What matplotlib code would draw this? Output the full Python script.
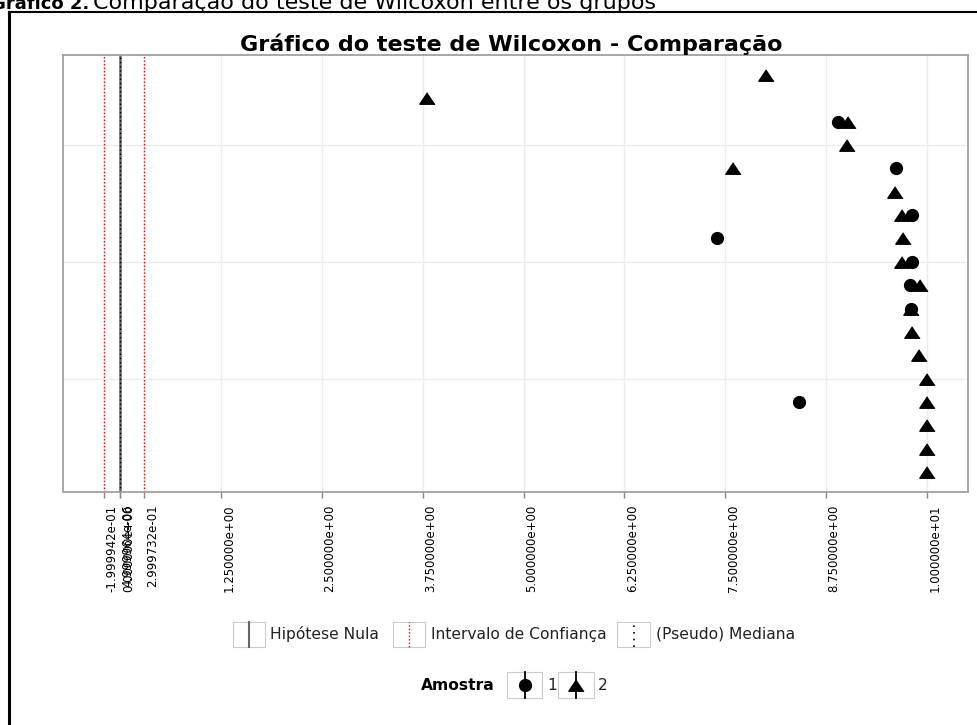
import numpy as np
import matplotlib
matplotlib.use("Agg")
import matplotlib.pyplot as plt
import matplotlib.transforms as mtransforms
from matplotlib.lines import Line2D
from matplotlib.patches import Rectangle

# ---------------- data ----------------
caption_bold = "Gráfico 2."
caption_rest = "Comparação do teste de Wilcoxon entre os grupos"
title = "Gráfico do teste de Wilcoxon - Comparação"

# rows listed top -> bottom
amostra1 = [np.nan, np.nan, 8.90, np.nan, 9.62, np.nan, 9.81, 7.40, 9.81,
            9.79, 9.80, np.nan, np.nan, np.nan, 8.42, np.nan, np.nan, np.nan]
amostra2 = [8.01, 3.80, 9.02, 9.01, 7.60, 9.60, 9.69, 9.70, 9.69,
            9.91, 9.80, 9.81, 9.90, 10.0, 10.0, 10.0, 10.0, 10.0]

hipotese_nula = 0.0
intervalo_conf = [-0.1999942, 0.2999732]
pseudo_mediana = 4.999964e-06
x_breaks = [1.25, 2.5, 3.75, 5.0, 6.25, 7.5, 8.75, 10.0]
y_breaks = [5, 10, 15]

legend_lines = ["Hipótese Nula", "Intervalo de Confiança", "(Pseudo) Mediana"]
legend_title = "Amostra"
legend_groups = ["1", "2"]

# ---------------- figure ----------------
W, H = 977, 725
fig = plt.figure(figsize=(W / 100, H / 100), dpi=100)
fig.patch.set_facecolor("white")


def fx(x):
    return x / W


def fy(y):
    return 1 - y / H


left, right, top, bottom = 63, 968, 55, 492
ax = fig.add_axes([fx(left), fy(bottom), (right - left) / W, (bottom - top) / H])

n = len(amostra2)
ypos = np.arange(n, 0, -1)

all_ticks = [intervalo_conf[0], hipotese_nula, pseudo_mediana, intervalo_conf[1]] + x_breaks
rng = max(all_ticks) - min(all_ticks)
ax.set_xlim(min(all_ticks) - 0.05 * rng, max(all_ticks) + 0.05 * rng)
ax.set_ylim(1 - 0.05 * (n - 1), n + 0.05 * (n - 1))

grid_c = "#ebebeb"
for xb in all_ticks:
    ax.axvline(xb, color=grid_c, lw=1.0, zorder=0)
for yb in y_breaks:
    ax.axhline(yb, color=grid_c, lw=1.0, zorder=0)

# reference lines
ax.axvline(hipotese_nula, color="#666666", lw=1.8, zorder=1)
ax.axvline(pseudo_mediana, color="black", lw=1.0, ls=(0, (1, 2)), zorder=2)
for ci in intervalo_conf:
    ax.axvline(ci, color="red", lw=1.0, ls=(0, (1, 1.5)), zorder=2)

tri = [(0, 0.75), (-1, -0.75), (1, -0.75)]
ax.plot(amostra1, ypos, ls="none", marker="o", ms=8.5, color="black", zorder=3)
ax.plot(amostra2, ypos, ls="none", marker=tri, ms=11, color="black", zorder=4)

ax.set_yticks([])
ax.set_xticks(all_ticks)
ax.set_xticklabels(["%.6e" % v for v in all_ticks], rotation=90, fontsize=8.5,
                   va="top", ha="center")
ax.tick_params(axis="x", length=4, width=1, color="#888888", pad=5)
tick_cols = ["red", "#222222", "#222222", "red"] + ["#888888"] * len(x_breaks)
for t, c in zip(ax.xaxis.get_major_ticks(), tick_cols):
    t.tick1line.set_color(c)
off = mtransforms.ScaledTranslation(8 / 100, 0, fig.dpi_scale_trans)
for lab in ax.get_xticklabels():
    lab.set_transform(lab.get_transform() + off)

for s in ax.spines.values():
    s.set_color("#a0a0a0")
    s.set_linewidth(1.3)

# titles
fig.text(fx(511), fy(44), title, ha="center", va="center", fontsize=16,
         fontweight="bold")
fig.text(fx(89), fy(9), caption_bold, ha="right", va="baseline", fontsize=13,
         fontweight="bold")
fig.text(fx(93), fy(9), caption_rest, ha="left", va="baseline", fontsize=16)

# outer frame
fig.add_artist(Line2D([fx(9), fx(9)], [fy(12), 0], color="black", lw=2.2))
fig.add_artist(Line2D([fx(9), 1], [fy(12), fy(12)], color="black", lw=1.5))

# legend 1
box_c = "#cccccc"
keys = [(233, 265, dict(color="#666666", lw=1.5, ls="-")),
        (393, 425, dict(color="red", lw=1.0, ls=(0, (1, 1.5)))),
        (617, 650, dict(color="black", lw=1.2, ls=(0, (1, 3))))]
textx = [270, 431, 656]
cy, bh = 634, 25
for (x0, x1, st), lab, tx in zip(keys, legend_lines, textx):
    fig.add_artist(Rectangle((fx(x0), fy(cy + bh / 2)), (x1 - x0) / W, bh / H,
                             facecolor="white", edgecolor=box_c, lw=0.8))
    xm = (x0 + x1) / 2
    fig.add_artist(Line2D([fx(xm), fx(xm)], [fy(cy + bh / 2), fy(cy - bh / 2)], **st))
    fig.text(fx(tx), fy(cy), lab, ha="left", va="center", fontsize=11.2,
             color="#222222")

# legend 2
cy2, bh2 = 685, 26
fig.text(fx(421), fy(cy2), legend_title, ha="left", va="center", fontsize=11.2,
         fontweight="bold")
keys2 = [(507, 542, "o", 8.5, 547), (558, 594, tri, 11, 598)]
for (x0, x1, mk, ms, tx), lab in zip(keys2, legend_groups):
    fig.add_artist(Rectangle((fx(x0), fy(cy2 + bh2 / 2)), (x1 - x0) / W, bh2 / H,
                             facecolor="white", edgecolor=box_c, lw=0.8))
    xm = (x0 + x1) / 2
    fig.add_artist(Line2D([fx(xm), fx(xm)], [fy(cy2 + bh2 / 2), fy(cy2 - bh2 / 2)],
                          color="black", lw=1.3))
    fig.add_artist(Line2D([fx(xm)], [fy(cy2)], ls="none", marker=mk, ms=ms,
                          color="black"))
    fig.text(fx(tx), fy(cy2), lab, ha="left", va="center", fontsize=11.2,
             color="#222222")

fig.savefig("out.png", dpi=100)
